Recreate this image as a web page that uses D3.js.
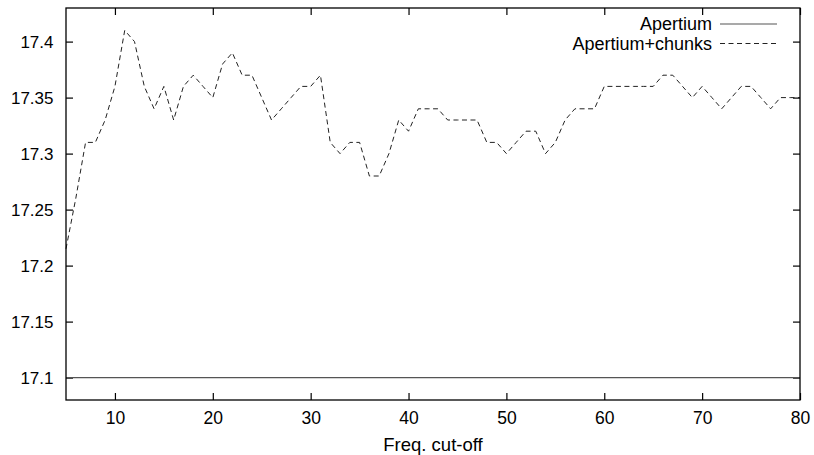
<!DOCTYPE html>
<meta charset="utf-8">
<style>
  body { margin: 0; background: #fff; }
  text { font-family: "Liberation Sans", Arial, sans-serif; font-size: 18.5px; fill: #000; }
</style>
<body>
<svg width="814" height="455"></svg>
<script src="https://d3js.org/d3.v7.min.js"></script>
<script>
// data ------------------------------------------------------------------------
// frequency cut-off (x) and score of the Apertium+chunks system
var cutoffs = [5, 6, 7, 8, 9, 10, 11, 12, 13, 14, 15, 16, 17, 18, 19, 20,
  21, 22, 23, 24, 25, 26, 27, 28, 29, 30, 31, 32, 33, 34, 35, 36, 37, 38, 39, 40,
  41, 42, 43, 44, 45, 46, 47, 48, 49, 50, 51, 52, 53, 54, 55, 56, 57, 58, 59, 60,
  61, 62, 63, 64, 65, 66, 67, 68, 69, 70, 71, 72, 73, 74, 75, 76, 77, 78, 79, 80];
var chunksScores = [17.215, 17.26, 17.31, 17.31, 17.33, 17.36, 17.41, 17.40, 17.36, 17.34,
  17.36, 17.33, 17.36, 17.37, 17.36, 17.35, 17.38, 17.39, 17.37, 17.37,
  17.35, 17.33, 17.34, 17.35, 17.36, 17.36, 17.37, 17.31, 17.30, 17.31,
  17.31, 17.28, 17.28, 17.30, 17.33, 17.32, 17.34, 17.34, 17.34, 17.33,
  17.33, 17.33, 17.33, 17.31, 17.31, 17.30, 17.31, 17.32, 17.32, 17.30,
  17.31, 17.33, 17.34, 17.34, 17.34, 17.36, 17.36, 17.36, 17.36, 17.36,
  17.36, 17.37, 17.37, 17.36, 17.35, 17.36, 17.35, 17.34, 17.35, 17.36,
  17.36, 17.35, 17.34, 17.35, 17.35, 17.35];
// baseline system: flat score over the whole range
var apertiumCutoffs = [5, 80];
var apertiumScores = [17.1, 17.1];

var xTicks = [10, 20, 30, 40, 50, 60, 70, 80];
var yTicks = [17.1, 17.15, 17.2, 17.25, 17.3, 17.35, 17.4];
var legendLabels = ["Apertium", "Apertium+chunks"];
//------------------------------------------------------------------------------

const svg = d3.select('svg');
const plotLeft = 66, plotRight = 800, plotTop = 8, plotBottom = 400;

const x = d3.scaleLinear().domain([5, 80]).range([plotLeft, plotRight]);
const y = d3.scaleLinear().domain([17.08, 17.43]).range([plotBottom, plotTop]);

// axes: ticks point inward, mirrored on top/right
svg.append('g')
  .attr('class', 'xaxis')
  .attr('transform', `translate(0,${plotBottom})`)
  .call(d3.axisBottom(x).tickValues(xTicks).tickSizeInner(-7).tickSizeOuter(0).tickPadding(12))
  .call(g => g.select('.domain').remove());

svg.append('g')
  .attr('transform', `translate(0,${plotTop})`)
  .call(d3.axisTop(x).tickValues(xTicks).tickFormat('').tickSizeInner(-7).tickSizeOuter(0))
  .call(g => g.select('.domain').remove());

svg.append('g')
  .attr('class', 'yaxis')
  .attr('transform', `translate(${plotLeft},0)`)
  .call(d3.axisLeft(y).tickValues(yTicks).tickFormat(d3.format('')).tickSizeInner(-7).tickSizeOuter(0).tickPadding(12.5))
  .call(g => g.select('.domain').remove());

svg.append('g')
  .attr('transform', `translate(${plotRight},0)`)
  .call(d3.axisRight(y).tickValues(yTicks).tickFormat('').tickSizeInner(-7).tickSizeOuter(0))
  .call(g => g.select('.domain').remove());

svg.selectAll('.tick line').attr('stroke', '#000').attr('stroke-width', 1.2);
svg.selectAll('.tick text')
  .style('font-family', '"Liberation Sans", Arial, sans-serif')
  .style('font-size', '17px');
svg.selectAll('.xaxis .tick text').style('font-size', '17.5px');

// x label
svg.append('text')
  .attr('x', (plotLeft + plotRight) / 2)
  .attr('y', 451)
  .attr('text-anchor', 'middle')
  .text('Freq. cut-off');

// lines -----------------------------------------------------------------------
const line = d3.line()
  .x(d => x(d[0]))
  .y(d => y(d[1]));

svg.append('path')
  .datum(apertiumCutoffs.map((c, i) => [c, apertiumScores[i]]))
  .attr('fill', 'none')
  .attr('stroke', '#555')
  .attr('stroke-width', 1.2)
  .attr('d', line);

svg.append('path')
  .datum(cutoffs.map((c, i) => [c, chunksScores[i]]))
  .attr('fill', 'none')
  .attr('stroke', '#222')
  .attr('stroke-width', 1)
  .attr('stroke-dasharray', '5,3.5')
  .attr('d', line);

// frame
svg.append('rect')
  .attr('x', plotLeft).attr('y', plotTop)
  .attr('width', plotRight - plotLeft).attr('height', plotBottom - plotTop)
  .attr('fill', 'none')
  .attr('stroke', '#000')
  .attr('stroke-width', 1.3);

// legend ----------------------------------------------------------------------
const legend = svg.append('g').attr('class', 'legend');
legendLabels.forEach((label, i) => {
  const ly = 24 + i * 19.5;
  legend.append('text')
    .attr('x', 712)
    .attr('y', ly)
    .attr('dy', '0.35em')
    .attr('text-anchor', 'end')
    .style('font-size', '18px')
    .text(label);
  legend.append('line')
    .attr('x1', 720).attr('x2', 777)
    .attr('y1', ly).attr('y2', ly)
    .attr('stroke', i === 0 ? '#555' : '#222')
    .attr('stroke-width', i === 0 ? 1.2 : 1)
    .attr('stroke-dasharray', i === 0 ? null : '5,3.5');
});
</script>
